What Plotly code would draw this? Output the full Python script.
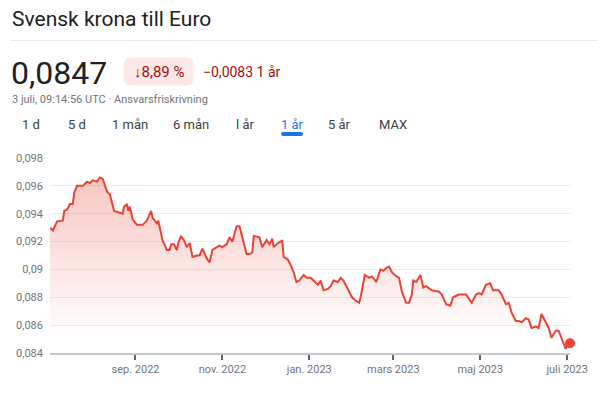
import plotly.graph_objects as go

# ---------------- data ----------------
dates = [
    "2022-07-03", "2022-07-05", "2022-07-08", "2022-07-10", "2022-07-12", "2022-07-13", "2022-07-15",
    "2022-07-17", "2022-07-19", "2022-07-20", "2022-07-22", "2022-07-24", "2022-07-26", "2022-07-29",
    "2022-07-31", "2022-08-02", "2022-08-05", "2022-08-07", "2022-08-09", "2022-08-12", "2022-08-14",
    "2022-08-17", "2022-08-21", "2022-08-23", "2022-08-24", "2022-08-26", "2022-08-27", "2022-08-28",
    "2022-08-30", "2022-09-02", "2022-09-04", "2022-09-06", "2022-09-09", "2022-09-12", "2022-09-13",
    "2022-09-16", "2022-09-17", "2022-09-20", "2022-09-23", "2022-09-25", "2022-09-26", "2022-09-28",
    "2022-09-30", "2022-10-01", "2022-10-03", "2022-10-05", "2022-10-07", "2022-10-09", "2022-10-11",
    "2022-10-14", "2022-10-16", "2022-10-18", "2022-10-21", "2022-10-23", "2022-10-25", "2022-10-28",
    "2022-10-30", "2022-11-01", "2022-11-04", "2022-11-06", "2022-11-08", "2022-11-11", "2022-11-13",
    "2022-11-15", "2022-11-18", "2022-11-20", "2022-11-22", "2022-11-23", "2022-11-27", "2022-11-29",
    "2022-12-02", "2022-12-04", "2022-12-06", "2022-12-07", "2022-12-10", "2022-12-12", "2022-12-13",
    "2022-12-14", "2022-12-17", "2022-12-19", "2022-12-21", "2022-12-23", "2022-12-25", "2022-12-28",
    "2022-12-30", "2023-01-02", "2023-01-05", "2023-01-07", "2023-01-09", "2023-01-11", "2023-01-14",
    "2023-01-16", "2023-01-18", "2023-01-21", "2023-01-23", "2023-01-25", "2023-01-29", "2023-01-31",
    "2023-02-02", "2023-02-05", "2023-02-06", "2023-02-08", "2023-02-09", "2023-02-12", "2023-02-14",
    "2023-02-17", "2023-02-20", "2023-02-22", "2023-02-24", "2023-02-26", "2023-02-28", "2023-03-02",
    "2023-03-05", "2023-03-07", "2023-03-10", "2023-03-12", "2023-03-14", "2023-03-15", "2023-03-17",
    "2023-03-20", "2023-03-22", "2023-03-24", "2023-03-28", "2023-04-02", "2023-04-04", "2023-04-07",
    "2023-04-10", "2023-04-12", "2023-04-16", "2023-04-18", "2023-04-21", "2023-04-25", "2023-04-28",
    "2023-04-30", "2023-05-02", "2023-05-05", "2023-05-08", "2023-05-10", "2023-05-14", "2023-05-16",
    "2023-05-19", "2023-05-21", "2023-05-23", "2023-05-26", "2023-05-28", "2023-05-30", "2023-06-02",
    "2023-06-04", "2023-06-06", "2023-06-09", "2023-06-11", "2023-06-13", "2023-06-16", "2023-06-18",
    "2023-06-20", "2023-06-23", "2023-06-25", "2023-06-27", "2023-06-30", "2023-07-01", "2023-07-03",
]
rates = [
    0.0930, 0.0928, 0.09345, 0.0935, 0.0935, 0.0942, 0.0943,
    0.0947, 0.0947, 0.0955, 0.0960, 0.0960, 0.0960, 0.0963,
    0.0962, 0.0964, 0.0963, 0.0966, 0.0965, 0.0956, 0.0954,
    0.0942, 0.0941, 0.0940, 0.0945, 0.0947, 0.0942, 0.0945,
    0.0936, 0.0932, 0.0932, 0.0932, 0.0935, 0.0942, 0.0937,
    0.0933, 0.0935, 0.0921, 0.0914, 0.0914, 0.0918, 0.0918,
    0.0914, 0.0919, 0.0924, 0.0921, 0.0916, 0.0919, 0.0909,
    0.0910, 0.0910, 0.0915, 0.0908, 0.0905, 0.0914, 0.0916,
    0.0917, 0.0916, 0.0918, 0.0923, 0.0920, 0.0931, 0.0931,
    0.0923, 0.0911, 0.0911, 0.0912, 0.0924, 0.0923, 0.0916,
    0.0921, 0.0918, 0.0922, 0.0916, 0.0919, 0.0920, 0.0921,
    0.0909, 0.0907, 0.0903, 0.0898, 0.0891, 0.0892, 0.0896,
    0.0894, 0.0894, 0.0891, 0.0889, 0.0892, 0.0885, 0.0886,
    0.0888, 0.0892, 0.0891, 0.0894, 0.0892, 0.0884, 0.0880,
    0.0878, 0.0876, 0.0880, 0.0891, 0.0896, 0.0894, 0.0895,
    0.0891, 0.0900, 0.0899, 0.0901, 0.0902, 0.0898, 0.0896,
    0.0894, 0.0884, 0.0876, 0.0876, 0.0882, 0.0892, 0.0891,
    0.0896, 0.0887, 0.0888, 0.0885, 0.0884, 0.0882, 0.0875,
    0.0874, 0.0880, 0.0882, 0.0882, 0.0882, 0.0876, 0.0882,
    0.0883, 0.0882, 0.0889, 0.0890, 0.0885, 0.0885, 0.0882,
    0.0875, 0.0876, 0.0869, 0.0863, 0.0863, 0.0862, 0.0865,
    0.0864, 0.0858, 0.0859, 0.0858, 0.0868, 0.0862, 0.0858,
    0.0851, 0.0856, 0.0856, 0.0851, 0.0843, 0.0846, 0.0847,
]

y_tick_vals = [0.084, 0.086, 0.088, 0.090, 0.092, 0.094, 0.096, 0.098]
y_tick_text = ["0,084", "0,086", "0,088", "0,09", "0,092", "0,094", "0,096", "0,098"]
x_tick_vals = ["2022-09-01", "2022-11-01", "2023-01-01", "2023-03-01", "2023-05-01", "2023-07-01"]
x_tick_text = ["sep. 2022", "nov. 2022", "jan. 2023", "mars 2023", "maj 2023", "juli 2023"]

title_text = "Svensk krona till Euro"
price_text = "0,0847"
change_pct_text = "↓8,89 %"
change_abs_text = "−0,0083 1 år"
subtitle_text = "3 juli, 09:14:56 UTC · Ansvarsfriskrivning"
tabs = ["1 d", "5 d", "1 mån", "6 mån", "l år", "1 år", "5 år", "MAX"]
active_tab = "1 år"

# ---------------- layout helpers (pixel -> paper) ----------------
W, H = 600, 393
ML, MR, MT, MB = 50, 28, 158, 40
PW, PH = W - ML - MR, H - MT - MB


def px(x):
    return (x - ML) / PW


def py(y):
    return (H - MB - y) / PH


RED = "#ea4335"
FONT = "Roboto, Arial, sans-serif"

fig = go.Figure()
fig.add_trace(go.Scatter(
    x=dates, y=rates, mode="lines",
    line=dict(color=RED, width=2),
    fill="tozeroy",
    fillgradient=dict(
        type="vertical",
        start=0.0850, stop=0.0966,
        colorscale=[[0, "rgba(234,67,53,0)"], [1, "rgba(234,67,53,0.30)"]],
    ),
    hoverinfo="skip",
))
fig.add_trace(go.Scatter(
    x=[dates[-1]], y=[rates[-1]], mode="markers",
    marker=dict(color=RED, size=10),
    hoverinfo="skip", cliponaxis=False,
))

annotations = [
    dict(text=title_text, x=px(10), y=py(19), font=dict(size=21, color="#202124")),
    dict(text=price_text, x=px(9), y=py(73), font=dict(size=32, color="#202124")),
    dict(text=change_pct_text, x=px(159), y=py(72), xanchor="center",
         font=dict(size=15, color="#a50e0e")),
    dict(text=change_abs_text, x=px(202), y=py(72), font=dict(size=14, color="#a50e0e")),
    dict(text=subtitle_text, x=px(10), y=py(99), font=dict(size=11, color="#70757a")),
]
tab_centers = [31, 77, 130, 191.5, 246, 293, 341, 394]
for t, cx in zip(tabs, tab_centers):
    annotations.append(dict(
        text=t, x=px(cx), y=py(124), xanchor="center",
        font=dict(size=13, color="#1a73e8" if t == active_tab else "#3c4043"),
    ))
for a in annotations:
    a.setdefault("xanchor", "left")
    a.update(xref="paper", yref="paper", yanchor="middle", showarrow=False)
    a["font"]["family"] = FONT


def rounded_rect(x0, y0, x1, y1, r):
    rx, ry = r / PW, r / PH
    X0, X1 = px(x0), px(x1)
    Y0, Y1 = py(y0), py(y1)  # Y0 top (larger), Y1 bottom
    return (f"M {X0+rx},{Y0} L {X1-rx},{Y0} Q {X1},{Y0} {X1},{Y0-ry} "
            f"L {X1},{Y1+ry} Q {X1},{Y1} {X1-rx},{Y1} L {X0+rx},{Y1} "
            f"Q {X0},{Y1} {X0},{Y1+ry} L {X0},{Y0-ry} Q {X0},{Y0} {X0+rx},{Y0} Z")


shapes = [
    dict(type="line", xref="paper", yref="paper", x0=px(10), x1=px(600), y0=py(40.5), y1=py(40.5),
         line=dict(color="#e8eaed", width=1)),
    dict(type="path", xref="paper", yref="paper", path=rounded_rect(124, 57.5, 194, 85.5, 7),
         fillcolor="#fce8e6", line=dict(width=0)),
    dict(type="path", xref="paper", yref="paper", path=rounded_rect(282, 132, 304, 136, 2),
         fillcolor="#1a73e8", line=dict(width=0)),
]

fig.update_layout(
    width=W, height=H, autosize=False,
    margin=dict(l=ML, r=MR, t=MT, b=MB),
    paper_bgcolor="white", plot_bgcolor="white",
    showlegend=False, hovermode=False,
    font=dict(family=FONT, size=11, color="#70757a"),
    annotations=annotations, shapes=shapes,
    xaxis=dict(
        range=["2022-07-03", "2023-07-03"],
        tickvals=x_tick_vals, ticktext=x_tick_text,
        showgrid=False, zeroline=False,
        showline=True, linecolor="#c6c9cc", linewidth=2,
        ticks="outside", ticklen=5, tickwidth=2, tickcolor="#5f6368",
        tickfont=dict(size=11, color="#70757a"),
        fixedrange=True,
    ),
    yaxis=dict(
        range=[0.084, 0.098],
        tickvals=y_tick_vals, ticktext=y_tick_text,
        showgrid=True, gridcolor="#ececec", gridwidth=1,
        zeroline=False, showline=False, ticks="",
        ticklabelstandoff=6,
        tickfont=dict(size=11, color="#70757a"),
        fixedrange=True,
    ),
)

fig.write_html(
    "out.html",
    config={"displayModeBar": False, "staticPlot": True},
    post_script="document.body.style.margin='0';document.body.style.overflow='hidden';",
)
